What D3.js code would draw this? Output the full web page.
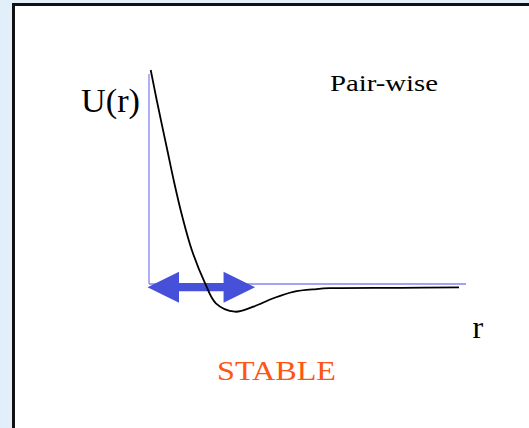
<!DOCTYPE html>
<html>
<head>
<meta charset="utf-8">
<script src="https://cdn.jsdelivr.net/npm/d3@7"></script>
<style>
html,body{margin:0;padding:0;background:#e3eefb;}
svg{display:block;}
</style>
</head>
<body>
<script>
// Data: potential U(r) (arbitrary units)
const rValues = [0.054, 0.243, 0.577, 0.80, 1.05, 1.35, 1.77, 2.11, 2.71, 3.29, 3.92, 4.55, 5.29, 5.71, 7.92, 9.78];
const uValues = [10.19, 8.76, 6.38, 4.80, 3.21, 1.62, 0.03, -0.92, -1.32, -1.08, -0.68, -0.37, -0.24, -0.20, -0.18, -0.16];
const axisRange = [0, 10];          // r and U extents of the drawn axes
const stableRange = [0, 3.33];      // r range spanned by the double arrow
const stableLevel = -0.15;          // U level of the arrow
const labels = {y: "U(r)", x: "r", title: "Pair-wise", note: "STABLE"};

const W = 529, H = 428;
const svg = d3.select("body").append("svg").attr("width", W).attr("height", H);

// white panel with dark border
svg.append("rect").attr("x", 13.5).attr("y", 4.5).attr("width", W + 10).attr("height", H + 10)
  .attr("fill", "#fff").attr("stroke", "#111").attr("stroke-width", 3);

const x = d3.scaleLinear().domain([0, 10]).range([149, 466]);
const y = d3.scaleLinear().domain([0, 10]).range([284, 74]);

const axisColor = "#8585f0";
// axes
svg.append("line").attr("x1", x(0)).attr("x2", x(0)).attr("y1", y(axisRange[0])).attr("y2", y(axisRange[1]))
  .attr("stroke", axisColor).attr("stroke-width", 1.3);
svg.append("line").attr("x1", x(axisRange[0])).attr("x2", x(axisRange[1])).attr("y1", y(0)).attr("y2", y(0))
  .attr("stroke", axisColor).attr("stroke-width", 1.3);

// double arrow
const ax0 = x(stableRange[0]) - 1.5, ax1 = x(stableRange[1]) + 0.5, ay = y(stableLevel);
const headL = 31.5, headH = 15.5, shaftH = 4.2;
const arrowPts = [
  [ax0, ay], [ax0 + headL, ay - headH], [ax0 + headL, ay - shaftH],
  [ax1 - headL, ay - shaftH], [ax1 - headL, ay - headH], [ax1, ay],
  [ax1 - headL, ay + headH], [ax1 - headL, ay + shaftH],
  [ax0 + headL, ay + shaftH], [ax0 + headL, ay + headH]
];
svg.append("path").attr("d", "M" + arrowPts.join("L") + "Z").attr("fill", "#4750d8");

// curve
const pts = rValues.map((r, i) => [r, uValues[i]]);
const line = d3.line().x(d => x(d[0])).y(d => y(d[1])).curve(d3.curveCatmullRom.alpha(0.5));
svg.append("path").datum(pts).attr("d", line).attr("fill", "none").attr("stroke", "#000").attr("stroke-width", 1.8);

const font = "'Liberation Serif', 'Times New Roman', serif";
svg.append("text").attr("x", 81).attr("y", 112).attr("font-family", font).attr("font-size", 34)
  .attr("textLength", 59).attr("lengthAdjust", "spacingAndGlyphs").text(labels.y);
svg.append("text").attr("x", 330).attr("y", 91).attr("font-family", font).attr("font-size", 23)
  .attr("textLength", 108).attr("lengthAdjust", "spacingAndGlyphs").text(labels.title);
svg.append("text").attr("x", 472.5).attr("y", 338).attr("font-family", font).attr("font-size", 32)
  .text(labels.x);
svg.append("text").attr("x", 217).attr("y", 380).attr("font-family", font).attr("font-size", 27)
  .attr("fill", "#ff5512").attr("textLength", 119).attr("lengthAdjust", "spacingAndGlyphs").text(labels.note);
</script>
</body>
</html>
